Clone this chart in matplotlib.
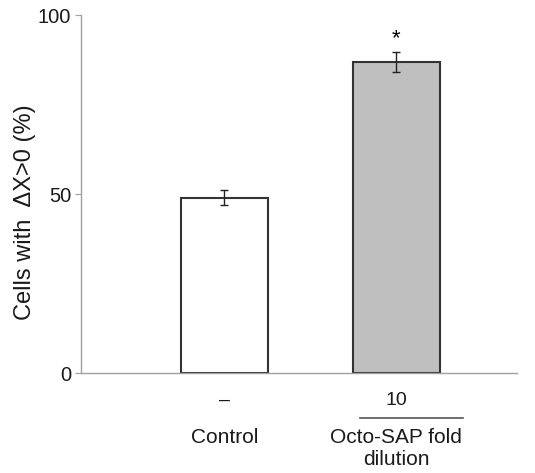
import numpy as np
import matplotlib.pyplot as plt
from matplotlib.transforms import blended_transform_factory

plt.rcParams['font.family'] = ['Liberation Sans', 'DejaVu Sans']

# data
groups = ['Control', 'Octo-SAP fold\ndilution']
dilution = ['–', '10']
values = [49, 87]
errors = [2.0, 2.8]
colors = ['white', '#c0bfbf']
sig = ['', '*']

fig = plt.figure(figsize=(5.35, 4.73), dpi=100)
ax = fig.add_axes([0.1514, 0.2114, 0.8146, 0.7566])

x = np.arange(len(values))
ax.bar(x, values, width=0.506, color=colors, edgecolor='#333333', linewidth=1.5, zorder=2)
ax.errorbar(x, values, yerr=errors, fmt='none', ecolor='#222222', elinewidth=1,
            capsize=3, capthick=1, zorder=3)
for xi, v, e, s in zip(x, values, errors, sig):
    if s:
        ax.text(xi, v + e + 0.8, s, ha='center', va='bottom', fontsize=16)

ax.set_xlim(-0.834, 1.70)
ax.set_ylim(0, 100)
ax.set_yticks([0, 50, 100])
ax.set_xticks([])
for sp in ['top', 'right']:
    ax.spines[sp].set_visible(False)
for sp in ['left', 'bottom']:
    ax.spines[sp].set_color('#a0a0a0')
    ax.spines[sp].set_linewidth(1)
ax.tick_params(axis='y', colors='#a0a0a0', labelcolor='#1a1a1a', labelsize=14.5,
               length=4, direction='out', pad=3)
ax.set_ylabel('Cells with  ΔX>0 (%)', fontsize=17, color='#1a1a1a')
ax.yaxis.set_label_coords(36 / 535, 1 - 212 / 473, transform=fig.transFigure)

# category labels below the axis
tr = blended_transform_factory(ax.transData, fig.transFigure)
for xi, d, g in zip(x, dilution, groups):
    ax.text(xi, 1 - 400 / 473, d, transform=tr, ha='center', va='center', fontsize=14, color='#1a1a1a')
    ax.text(xi, 1 - 428 / 473, g, transform=tr, ha='center', va='top',
            fontsize=15, color='#1a1a1a', linespacing=1.2)
ax.plot([0.788, 1.39], [1 - 417.5 / 473] * 2, transform=tr, color='#555555', lw=1.2, clip_on=False)

fig.savefig('out.png', dpi=100)
